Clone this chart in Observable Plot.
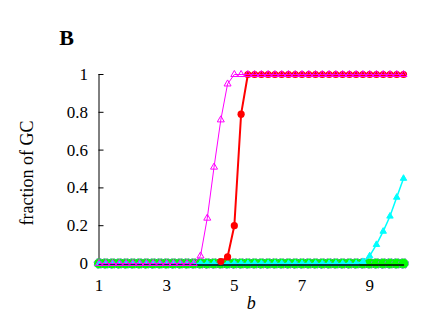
<!DOCTYPE html>
<html><head><meta charset="utf-8">
<script src="https://cdn.jsdelivr.net/npm/d3@7"></script>
<script src="https://cdn.jsdelivr.net/npm/@observablehq/plot@0.6"></script>
<style>body{margin:0;background:#fff} svg text{font-family:"Liberation Serif","Times New Roman",Times,serif !important}</style>
</head><body><div id="chart"></div>
<script>
const b = [1,1.2,1.4,1.6,1.8,2,2.2,2.4,2.6,2.8,3,3.2,3.4,3.6,3.8,4,4.2,4.4,4.6,4.8,5,5.2,5.4,5.6,5.8,6,6.2,6.4,6.6,6.8,7,7.2,7.4,7.6,7.8,8,8.2,8.4,8.6,8.8,9,9.2,9.4,9.6,9.8,10];
const magentaGC = [0,0,0,0,0,0,0,0,0,0,0,0,0,0,0,0.04,0.24,0.51,0.76,0.95,1,1,1,1,1,1,1,1,1,1,1,1,1,1,1,1,1,1,1,1,1,1,1,1,1,1];
const redGC = [null,null,null,null,null,null,null,null,null,null,null,null,null,null,null,null,null,null,0.01,0.035,0.2,0.79,1,1,1,1,1,1,1,1,1,1,1,1,1,1,1,1,1,1,1,1,1,1,1,1];
const cyanGC = [0,0,0,0,0,0,0,0,0,0,0,0,0,0,0,0,0,0,0,0,0,0,0,0,0,0,0,0,0,0,0,0,0,0,0,0,0,0,0,0.01,0.04,0.1,0.17,0.25,0.35,0.45];
const greenGC = [0,0,0,0,0,0,0,0,0,0,0,0,0,0,0,0,0,0,0,0,0,0,0,0,0,0,0,0,0,0,0,0,0,0,0,0,0,0,0,0,0,0,0,0,0,0];
const blackGC = [0,0,0,0,0,0,0,0,0,0,0,0,0,0,0,0,0,0,0,0,0,0,0,0,0,0,0,0,0,0,0,0,0,0,0,0,0,0,0,0,0,0,0,0,0,0];
const xTicks = [1,3,5,7,9];
const yTicks = [0,0.2,0.4,0.6,0.8,1];
const yLabel = "fraction of GC";
const xLabel = "b";
const panel = "B";

const rows = (vals) => b.map((x,i)=>({b:x, v:vals[i]}));
const W = 436, H = 327, mL = 98.5, mR = 33, mT = 74, mB = 64;

const chart = Plot.plot({
  width: W, height: H,
  marginLeft: mL, marginRight: mR, marginTop: mT, marginBottom: mB,
  style: {fontFamily: "'Liberation Serif', 'Times New Roman', serif", fontSize: "17px", background: "#fff", color: "#000"},
  x: {domain: [1,10]},
  y: {domain: [0,1]},
  marks: [
    Plot.axisY({ticks: yTicks, tickSize: 0, tickPadding: 11, tickFormat: d => String(d), label: null, fontSize: 17}),
    Plot.axisX({ticks: xTicks, tickSize: 0, tickPadding: 15, tickFormat: d => String(d), label: null, fontSize: 17}),
    Plot.tickY(yTicks, {y: d => d, insetRight: W - mL - mR - 5, stroke: "#000"}),
    Plot.ruleX([1], {stroke: "#000", strokeWidth: 1}),
    Plot.lineY(rows(greenGC), {x: "b", y: "v", stroke: "#00ff00", strokeWidth: 9}),
    Plot.dot(rows(greenGC), {x: "b", y: "v", r: 5, fill: "#00ff00", stroke: "#6f87c8", strokeWidth: 1, strokeDasharray: "2,2"}),
    Plot.lineY(rows(cyanGC), {x: "b", y: "v", stroke: "#00ffff", strokeWidth: 1.5}),
    Plot.dot(rows(cyanGC), {x: "b", y: "v", symbol: "triangle", r: 2.4, fill: "#00ffff", stroke: "#00ffff", strokeWidth: 1}),
    Plot.lineY(rows(blackGC), {x: "b", y: "v", stroke: "#000", strokeWidth: 1.5, dy: 1.5}),
    Plot.lineY(rows(redGC), {x: "b", y: "v", stroke: "#ff0000", strokeWidth: 2}),
    Plot.dot(rows(redGC), {x: "b", y: "v", r: 3.6, fill: "#ff0000", stroke: "none"}),
    Plot.lineY(rows(magentaGC), {x: "b", y: "v", stroke: "#ff00ff", strokeWidth: 1}),
    Plot.dot(rows(magentaGC), {x: "b", y: "v", symbol: "triangle", r: 2.6, fill: "none", stroke: "#ff00ff", strokeWidth: 1}),
    Plot.text([panel], {text: d => d, frameAnchor: "top-left", textAnchor: "middle", lineAnchor: "middle", dx: 66 - mL, dy: 37 - mT, fontWeight: "bold", fontSize: 22}),
    Plot.text([yLabel], {text: d => d, frameAnchor: "left", textAnchor: "middle", lineAnchor: "middle", rotate: -90, dx: 27 - mL, dy: 4, fontSize: 18}),
    Plot.text([xLabel], {text: d => d, frameAnchor: "bottom", textAnchor: "middle", lineAnchor: "middle", dy: 303 - (H - mB), fontStyle: "italic", fontSize: 18})
  ]
});
document.getElementById("chart").appendChild(chart);
</script>
</body></html>
